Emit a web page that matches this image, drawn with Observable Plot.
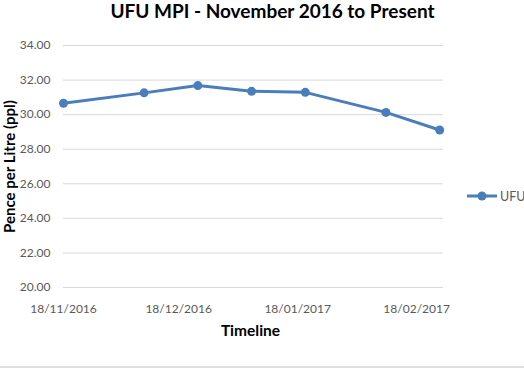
<!DOCTYPE html>
<html>
<head>
<meta charset="utf-8">
<script src="https://cdn.jsdelivr.net/npm/d3@7"></script>
<script src="https://cdn.jsdelivr.net/npm/@observablehq/plot@0.6"></script>
<style>
  html, body { margin: 0; padding: 0; background: #fff; }
  #wrap { position: relative; width: 524px; height: 368px; overflow: hidden; font-family: Lato, "Open Sans", sans-serif; }
  #title { position: absolute; left: 0; top: 0px; width: 545px; text-align: center; font-weight: bold; font-size: 19px; line-height: 22px; color: #000; white-space: nowrap; }
  #chart { position: absolute; left: 0; top: 0; }
  #legend { position: absolute; left: 466px; top: 188px; display: flex; align-items: center; font-size: 12.5px; color: #595959; }
  #bottomline { position: absolute; left: 0; top: 366px; width: 524px; height: 2px; background: #dedede; }
</style>
</head>
<body>
<div id="wrap">
  <div id="chart"></div>
  <div id="title"></div>
  <div id="legend"></div>
  <div id="bottomline"></div>
</div>
<script>
const titleText = "UFU MPI - November 2016 to Present";
const seriesName = "UFU";
const dates = ["2016-11-18", "2016-12-09", "2016-12-23", "2017-01-06", "2017-01-20", "2017-02-10", "2017-02-24"];
const values = [30.66, 31.26, 31.68, 31.35, 31.29, 30.13, 29.11];
const xTickDates = ["2016-11-18", "2016-12-18", "2017-01-18", "2017-02-18"];
const yTicks = [20, 22, 24, 26, 28, 30, 32, 34];
const yLabel = "Pence per Litre (ppl)";
const xLabel = "Timeline";

const color = "#4a7ebb";
const data = dates.map((d, i) => ({date: new Date(d), value: values[i]}));

const plot = Plot.plot({
  width: 524,
  height: 368,
  marginTop: 45,
  marginBottom: 81,
  marginLeft: 63,
  marginRight: 81,
  style: {fontFamily: "Lato, 'Open Sans', sans-serif", fontSize: "12px", color: "#595959", background: "transparent"},
  x: {type: "utc", domain: [new Date("2016-11-18"), new Date("2017-02-25")]},
  y: {domain: [20, 34]},
  marks: [
    Plot.gridY(yTicks, {stroke: "#d9d9d9", strokeOpacity: 1, strokeWidth: 1}),
    Plot.axisY(yTicks, {tickSize: 0, tickPadding: 13, tickFormat: d3.format(".2f"), label: null, fill: "#595959"}),
    Plot.axisX(xTickDates.map(d => new Date(d)), {tickSize: 0, tickPadding: 17, tickFormat: d3.utcFormat("%d/%m/%Y"), label: null, fill: "#595959"}),
    Plot.line(data, {x: "date", y: "value", stroke: color, strokeWidth: 3}),
    Plot.dot(data, {x: "date", y: "value", fill: color, r: 4.5}),
    Plot.text([yLabel], {text: d => d, frameAnchor: "left", textAnchor: "middle", dx: -53, rotate: -90, fontWeight: "bold", fontSize: 15, fill: "#000"}),
    Plot.text([xLabel], {text: d => d, frameAnchor: "bottom", textAnchor: "middle", dy: 48, dx: -3, fontWeight: "bold", fontSize: 15.5, fill: "#000"})
  ]
});
document.getElementById("chart").appendChild(plot);
document.getElementById("title").textContent = titleText;

const leg = document.getElementById("legend");
leg.innerHTML = `<svg width="32" height="16" style="display:block"><line x1="1" y1="8" x2="31" y2="8" stroke="${color}" stroke-width="3"/><circle cx="16" cy="8" r="4.5" fill="${color}"/></svg><span style="margin-left:2px">${seriesName}</span>`;
</script>
</body>
</html>
